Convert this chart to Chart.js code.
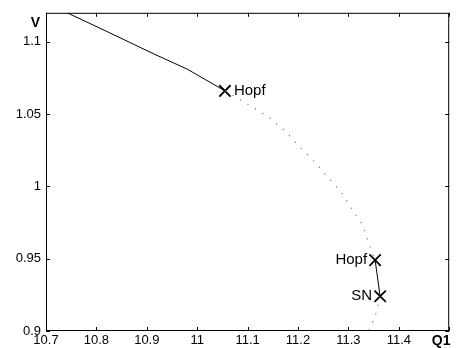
<!DOCTYPE html>
<html>
<head>
<meta charset="utf-8">
<script src="https://cdn.jsdelivr.net/npm/chart.js@4"></script>
<style>
  html, body { margin: 0; padding: 0; background: #fff; }
  #wrap { width: 459px; height: 348px; }
</style>
</head>
<body>
<div id="wrap"><canvas id="bifChart"></canvas></div>
<script>
// stable branch (solid) from the top edge down to the first Hopf point
const solidQ = [10.742, 10.817, 10.915, 10.980, 11.055];
const solidV = [1.12, 1.1077, 1.0914, 1.0811, 1.066];

// unstable branch (dotted) between the two Hopf points
const dotQ = [11.055, 11.087, 11.116, 11.144, 11.178, 11.201, 11.229, 11.256, 11.286, 11.309, 11.329, 11.341, 11.353];
const dotV = [1.066, 1.0596, 1.0534, 1.0473, 1.037, 1.028, 1.0185, 1.0075, 0.996, 0.983, 0.973, 0.960, 0.949];

// short solid piece Hopf -> SN
const midQ = [11.353, 11.363];
const midV = [0.949, 0.924];

// dotted tail below SN
const tailQ = [11.363, 11.353, 11.34];
const tailV = [0.924, 0.910, 0.9];

// special points
const pointNames = ['Hopf', 'Hopf', 'SN'];
const pointQ = [11.055, 11.353, 11.363];
const pointV = [1.066, 0.949, 0.924];

const xTicks = [10.7, 10.8, 10.9, 11, 11.1, 11.2, 11.3, 11.4, 11.5];
const yTicks = [0.9, 0.95, 1, 1.05, 1.1];

function toXY(qs, vs) {
  return qs.map((q, i) => ({ x: q, y: vs[i] }));
}

const font = "'Liberation Sans', Arial, sans-serif";

// frame, inward ticks, axis names and point labels
const decorations = {
  id: 'decorations',
  afterDatasetsDraw(chart) {
    const { ctx, chartArea: a, scales } = chart;
    ctx.save();
    ctx.strokeStyle = '#000';
    ctx.lineWidth = 1;
    ctx.strokeRect(a.left + 0.5, a.top + 0.5, a.right - a.left - 1, a.bottom - a.top - 1);
    ctx.beginPath();
    xTicks.forEach(v => {
      const px = Math.round(scales.x.getPixelForValue(v)) + 0.5;
      ctx.moveTo(px, a.bottom); ctx.lineTo(px, a.bottom - 4);
      ctx.moveTo(px, a.top); ctx.lineTo(px, a.top + 4);
    });
    yTicks.forEach(v => {
      const py = Math.round(scales.y.getPixelForValue(v)) + 0.5;
      ctx.moveTo(a.left, py); ctx.lineTo(a.left + 4, py);
      ctx.moveTo(a.right, py); ctx.lineTo(a.right - 4, py);
    });
    ctx.stroke();

    ctx.fillStyle = '#000';
    ctx.font = 'bold 14px ' + font;
    ctx.textBaseline = 'middle';
    ctx.textAlign = 'right';
    ctx.fillText('V', 40, a.top + 10);
    ctx.textAlign = 'center';
    ctx.fillText('Q1', scales.x.getPixelForValue(11.5) - 8, a.bottom + 10);

    ctx.font = '15px ' + font;
    pointNames.forEach((name, i) => {
      const px = scales.x.getPixelForValue(pointQ[i]);
      const py = scales.y.getPixelForValue(pointV[i]);
      if (i === 0) {
        ctx.textAlign = 'left';
        ctx.fillText(name, px + 9, py);
      } else {
        ctx.textAlign = 'right';
        ctx.fillText(name, px - 8, py);
      }
    });
    ctx.restore();
  }
};

new Chart(document.getElementById('bifChart'), {
  type: 'scatter',
  data: {
    datasets: [
      { data: toXY(solidQ, solidV), showLine: true, borderColor: '#000', borderWidth: 1, pointRadius: 0 },
      { data: toXY(dotQ, dotV), showLine: true, borderColor: '#777', borderWidth: 1.2, borderDash: [1.2, 7.5], pointRadius: 0 },
      { data: toXY(midQ, midV), showLine: true, borderColor: '#000', borderWidth: 1, pointRadius: 0 },
      { data: toXY(tailQ, tailV), showLine: true, borderColor: '#777', borderWidth: 1.2, borderDash: [1.2, 7.5], pointRadius: 0 },
      { data: toXY(pointQ, pointV), showLine: false, pointStyle: 'crossRot', pointRadius: 8, borderColor: '#000', borderWidth: 1.8 }
    ]
  },
  options: {
    responsive: true,
    maintainAspectRatio: false,
    animation: false,
    layout: { padding: { left: 0, right: 6, top: 10, bottom: 0 } },
    plugins: { legend: { display: false }, tooltip: { enabled: false } },
    scales: {
      x: {
        min: 10.7, max: 11.5,
        afterBuildTicks: s => { s.ticks = xTicks.map(v => ({ value: v })); },
        afterFit: s => { s.height = 17; },
        grid: { display: false, drawTicks: false },
        border: { display: false },
        ticks: {
          color: '#000', padding: 2, maxRotation: 0, autoSkip: false,
          font: { family: font, size: 13 },
          callback: v => v >= 11.45 ? '' : String(Number(v.toFixed(2)))
        }
      },
      y: {
        min: 0.9, max: 1.12,
        afterBuildTicks: s => { s.ticks = yTicks.map(v => ({ value: v })); },
        afterFit: s => { s.width = 46; },
        grid: { display: false, drawTicks: false },
        border: { display: false },
        ticks: {
          color: '#000', padding: 5,
          font: { family: font, size: 13 },
          callback: v => String(Number(v.toFixed(2)))
        }
      }
    }
  },
  plugins: [decorations]
});
</script>
</body>
</html>
